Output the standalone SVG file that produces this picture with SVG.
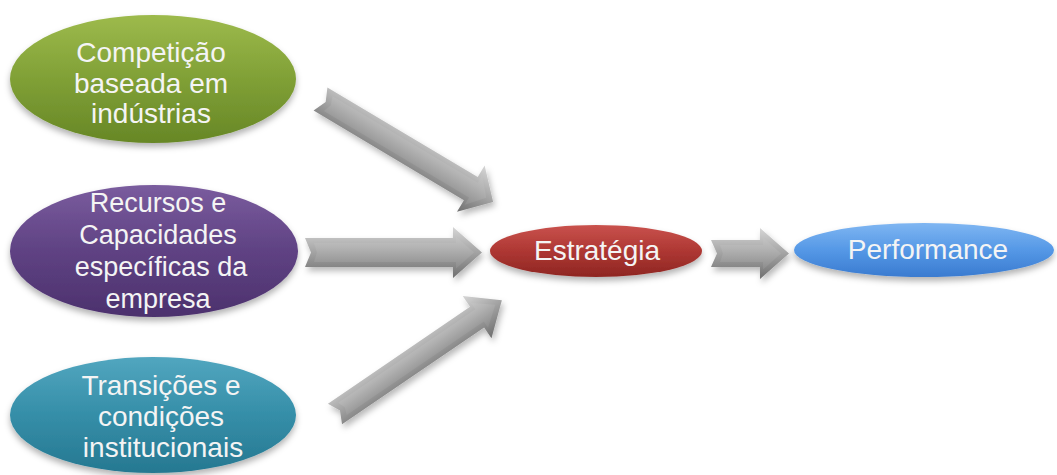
<svg xmlns="http://www.w3.org/2000/svg" width="1057" height="475" viewBox="0 0 1057 475">
<defs>
  <style>
    .lbl { font-family: "Liberation Sans", Arial, sans-serif; fill: #f4f4f4; text-anchor: middle; }
    .big { font-size: 28px; }
    .mid { font-size: 27px; }
    .aout { fill: url(#gArrOut); }
    .ain { fill: url(#gArrIn); }
  </style>
  <filter id="sh" x="-20%" y="-20%" width="140%" height="150%">
    <feDropShadow dx="0" dy="4" stdDeviation="3" flood-color="#000" flood-opacity="0.3"/>
  </filter>
  <filter id="ash" x="-20%" y="-20%" width="140%" height="150%">
    <feDropShadow dx="2" dy="4" stdDeviation="3" flood-color="#000" flood-opacity="0.28"/>
  </filter>
  <linearGradient id="gGreen" x1="0" y1="0" x2="0" y2="1">
    <stop offset="0" stop-color="#9dba4c"/>
    <stop offset="0.5" stop-color="#80a036"/>
    <stop offset="1" stop-color="#678726"/>
  </linearGradient>
  <linearGradient id="gPurple" x1="0" y1="0" x2="0" y2="1">
    <stop offset="0" stop-color="#7a5c9e"/>
    <stop offset="0.5" stop-color="#5f4283"/>
    <stop offset="1" stop-color="#4c316d"/>
  </linearGradient>
  <linearGradient id="gTeal" x1="0" y1="0" x2="0" y2="1">
    <stop offset="0" stop-color="#52a6bf"/>
    <stop offset="0.5" stop-color="#358ea8"/>
    <stop offset="1" stop-color="#267891"/>
  </linearGradient>
  <linearGradient id="gRed" x1="0" y1="0" x2="0" y2="1">
    <stop offset="0" stop-color="#c9524d"/>
    <stop offset="0.5" stop-color="#ae3733"/>
    <stop offset="1" stop-color="#8e2622"/>
  </linearGradient>
  <linearGradient id="gBlue" x1="0" y1="0" x2="0" y2="1">
    <stop offset="0" stop-color="#7fb6f2"/>
    <stop offset="0.5" stop-color="#5598e6"/>
    <stop offset="1" stop-color="#3a7bd0"/>
  </linearGradient>
  <linearGradient id="gArrOut" x1="0" y1="0" x2="0" y2="1">
    <stop offset="0" stop-color="#d6d6d6"/>
    <stop offset="0.45" stop-color="#a8a8a8"/>
    <stop offset="1" stop-color="#6f6f6f"/>
  </linearGradient>
  <linearGradient id="gArrIn" x1="0" y1="0" x2="0" y2="1">
    <stop offset="0" stop-color="#c4c4c4"/>
    <stop offset="0.35" stop-color="#b3b3b3"/>
    <stop offset="1" stop-color="#8c8c8c"/>
  </linearGradient>
</defs>
<rect width="1057" height="475" fill="#ffffff"/>

<g id="connectors">
  <g filter="url(#ash)">
    <g transform="translate(320.5,99) rotate(30.8)">
      <polygon class="aout" points="0,-13.5 175,-13.5 175,-27 201,0 175,27 175,13.5 0,13.5 6,0"/>
      <polygon class="ain" points="9,-8.5 178,-8.5 178,-17 193,0 178,17 178,8.5 9,8.5 12,0"/>
    </g>
  </g>
  <g filter="url(#ash)">
    <g transform="translate(305,252.5)">
      <polygon class="aout" points="0,-14.5 148,-14.5 148,-25.5 177,0 148,25.5 148,14.5 0,14.5 6,0"/>
      <polygon class="ain" points="9,-9.5 151,-9.5 151,-16 169,0 151,16 151,9.5 9,9.5 12,0"/>
    </g>
  </g>
  <g filter="url(#ash)">
    <g transform="translate(335,414) rotate(-34.3)">
      <polygon class="aout" points="0,-12.5 172,-12.5 172,-25.5 202,0 172,25.5 172,12.5 0,12.5 6,0"/>
      <polygon class="ain" points="9,-7.5 175,-7.5 175,-15 194,0 175,15 175,7.5 9,7.5 12,0"/>
    </g>
  </g>
  <g filter="url(#ash)">
    <g transform="translate(711,253.5)">
      <polygon class="aout" points="0,-13.5 49,-13.5 49,-25.5 78,0 49,25.5 49,13.5 0,13.5 6,0"/>
      <polygon class="ain" points="9,-8.5 52,-8.5 52,-16 70,0 52,16 52,8.5 9,8.5 12,0"/>
    </g>
  </g>
</g>

<g id="node-competicao">
  <ellipse cx="153" cy="79" rx="143" ry="64" fill="url(#gGreen)" filter="url(#sh)"/>
  <text class="lbl big" x="151" y="62">Competição</text>
  <text class="lbl big" x="151" y="93">baseada em</text>
  <text class="lbl big" x="151" y="123">indústrias</text>
</g>

<g id="node-recursos">
  <ellipse cx="154" cy="251" rx="144" ry="66" fill="url(#gPurple)" filter="url(#sh)"/>
  <text class="lbl mid" x="158" y="212">Recursos e</text>
  <text class="lbl mid" x="158" y="244">Capacidades</text>
  <text class="lbl mid" x="161" y="276">específicas da</text>
  <text class="lbl mid" x="158" y="308">empresa</text>
</g>

<g id="node-transicoes">
  <ellipse cx="153" cy="415" rx="143" ry="58" fill="url(#gTeal)" filter="url(#sh)"/>
  <text class="lbl big" x="161" y="395">Transições e</text>
  <text class="lbl big" x="161" y="426">condições</text>
  <text class="lbl big" x="163" y="457">institucionais</text>
</g>

<g id="node-estrategia">
  <ellipse cx="596" cy="251" rx="106" ry="26" fill="url(#gRed)" filter="url(#sh)"/>
  <text class="lbl big" x="597" y="260">Estratégia</text>
</g>

<g id="node-performance">
  <ellipse cx="924" cy="250" rx="130" ry="27" fill="url(#gBlue)" filter="url(#sh)"/>
  <text class="lbl big" x="928" y="259">Performance</text>
</g>
</svg>
